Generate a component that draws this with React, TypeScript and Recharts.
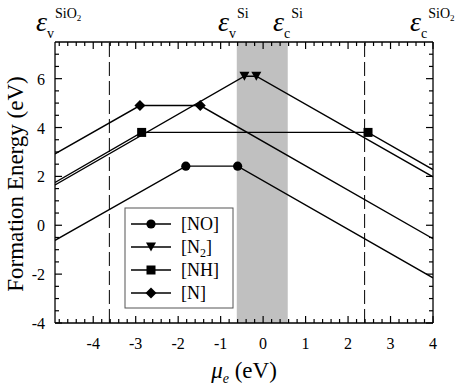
import { LineChart, Line, XAxis, YAxis, ReferenceLine, ReferenceArea } from 'recharts';

const X_MIN = -4.9;
const X_MAX = 4;
const Y_MIN = -4;
const Y_MAX = 7.5;

const xMajorTicks = [-4, -3, -2, -1, 0, 1, 2, 3, 4];
const yMajorTicks = [-4, -2, 0, 2, 4, 6];
const xAllTicks = Array.from({ length: 45 }, (_, i) => +(-4.8 + i * 0.2).toFixed(1));
const yAllTicks = Array.from({ length: 23 }, (_, i) => -4 + i * 0.5);

// species: mu_e break points and formation energies (eV)
const noX = [-4.9, -1.82, -0.6, 4];
const noY = [-0.62, 2.42, 2.42, -2.15];
const n2X = [-4.9, -0.44, -0.16, 4];
const n2Y = [1.65, 6.1, 6.1, 1.98];
const nhX = [-4.9, -2.86, 2.47, 4];
const nhY = [1.75, 3.8, 3.8, 2.28];
const nX = [-4.9, -2.9, -1.48, 4];
const nY = [2.92, 4.9, 4.9, -0.55];

// band edges
const siGap = [-0.62, 0.58];
const sio2Edges = [-3.62, 2.39];

const toPts = (xs: number[], ys: number[]) => xs.map((x, i) => ({ x, y: ys[i] }));

const FONT = 'Liberation Serif, Times New Roman, serif';
const W = 463;
const H = 391;
const M = { top: 42, right: 30, bottom: 68, left: 55 };
const PLOT_H = H - M.top - M.bottom;
const PLOT_W = W - M.left - M.right;

type Shape = 'circle' | 'triangle' | 'square' | 'diamond';

const Marker = ({ cx, cy, shape }: { cx: number; cy: number; shape: Shape }) => {
  if (shape === 'circle') return <circle cx={cx} cy={cy} r={4.6} fill="#000" />;
  if (shape === 'triangle')
    return <polygon points={`${cx - 5},${cy - 4.5} ${cx + 5},${cy - 4.5} ${cx},${cy + 4.5}`} fill="#000" />;
  if (shape === 'square') return <rect x={cx - 4.5} y={cy - 4.5} width={9} height={9} fill="#000" />;
  return <polygon points={`${cx},${cy - 5.5} ${cx + 5.5},${cy} ${cx},${cy + 5.5} ${cx - 5.5},${cy}`} fill="#000" />;
};

const kinkDot = (shape: Shape, n: number) => (props: any) => {
  const { cx, cy, index } = props;
  if (index === 0 || index === n - 1) return <g key={`e${index}`} />;
  return (
    <g key={`d${index}`}>
      <Marker cx={cx} cy={cy} shape={shape} />
    </g>
  );
};

const SERIES: { name: string; xs: number[]; ys: number[]; shape: Shape }[] = [
  { name: 'NO', xs: noX, ys: noY, shape: 'circle' },
  { name: 'N2', xs: n2X, ys: n2Y, shape: 'triangle' },
  { name: 'NH', xs: nhX, ys: nhY, shape: 'square' },
  { name: 'N', xs: nX, ys: nY, shape: 'diamond' },
];

// bottom axis: inward ticks at bottom and mirrored at the top, labels on majors
const bottomTick = (props: any) => {
  const { x, y, payload } = props;
  const major = xMajorTicks.includes(payload.value);
  const len = major ? 7 : 4;
  const top = y - PLOT_H;
  return (
    <g>
      <line x1={x} y1={y} x2={x} y2={y - len} stroke="#000" strokeWidth={1.2} />
      <line x1={x} y1={top} x2={x} y2={top + len} stroke="#000" strokeWidth={1.2} />
      {major && (
        <text x={x} y={y + 26} textAnchor="middle" fontFamily={FONT} fontSize={16} fill="#000">
          {payload.value}
        </text>
      )}
    </g>
  );
};

// left axis: inward ticks on the left and mirrored on the right, plus the right frame edge
const leftTick = (props: any) => {
  const { x, y, payload } = props;
  const major = yMajorTicks.includes(payload.value);
  const len = major ? 7 : 4;
  const right = x + PLOT_W;
  return (
    <g>
      <line x1={x} y1={y} x2={x + len} y2={y} stroke="#000" strokeWidth={1.2} />
      <line x1={right} y1={y} x2={right - len} y2={y} stroke="#000" strokeWidth={1.2} />
      {payload.value === Y_MIN && (
        <line x1={right} y1={y} x2={right} y2={y - PLOT_H} stroke="#000" strokeWidth={1.3} />
      )}
      {major && (
        <text x={x - 10} y={y + 6} textAnchor="end" fontFamily={FONT} fontSize={16} fill="#000">
          {payload.value}
        </text>
      )}
    </g>
  );
};

const Eps = ({ x, sub, sup }: { x: number; sub: string; sup: 'Si' | 'SiO2' }) => (
  <text x={x} y={31} fontFamily={FONT} fill="#000">
    <tspan fontSize={28} fontStyle="italic">ε</tspan>
    <tspan fontSize={14} dy={7}>{sub}</tspan>
    <tspan fontSize={14} dy={-20} dx={1}>Si{sup === 'SiO2' ? 'O' : ''}</tspan>
    {sup === 'SiO2' && <tspan fontSize={9} dy={3}>2</tspan>}
  </text>
);

const legendRows: { label: string; sub?: string; shape: Shape }[] = [
  { label: 'NO', shape: 'circle' },
  { label: 'N', sub: '2', shape: 'triangle' },
  { label: 'NH', shape: 'square' },
  { label: 'N', shape: 'diamond' },
];

const frame = { stroke: '#000', strokeWidth: 1.3 };

export default function App() {
  return (
    <div style={{ position: 'relative', width: W, height: H, fontFamily: FONT, background: '#fff' }}>
      <style>{'body{margin:0}'}</style>
      <LineChart width={W} height={H} margin={M}>
        <XAxis xAxisId="x" dataKey="x" orientation="bottom" type="number" domain={[X_MIN, X_MAX]}
          allowDataOverflow ticks={xAllTicks} interval={0} tickSize={0} tickMargin={0} tickLine={false}
          axisLine={frame} height={0.01} tick={bottomTick} />
        <XAxis xAxisId="xt" orientation="top" type="number" domain={[X_MIN, X_MAX]}
          allowDataOverflow ticks={xMajorTicks} interval={0} tickSize={0} tickMargin={0} tickLine={false}
          axisLine={frame} height={0.01} tick={false} />
        <YAxis yAxisId="y" orientation="left" type="number" domain={[Y_MIN, Y_MAX]}
          allowDataOverflow ticks={yAllTicks} interval={0} tickSize={0} tickMargin={0} tickLine={false}
          axisLine={frame} width={0.01} tick={leftTick} />

        <ReferenceArea xAxisId="x" yAxisId="y" x1={siGap[0]} x2={siGap[1]} y1={Y_MIN} y2={Y_MAX}
          fill="#c0c0c0" fillOpacity={1} stroke="none" />
        {sio2Edges.map((v) => (
          <ReferenceLine key={v} xAxisId="x" yAxisId="y" x={v} stroke="#000" strokeWidth={1}
            strokeDasharray="14 5" />
        ))}

        {SERIES.map((s) => (
          <Line key={s.name} xAxisId="x" yAxisId="y" data={toPts(s.xs, s.ys)} dataKey="y" type="linear"
            stroke="#000" strokeWidth={1.4} dot={kinkDot(s.shape, s.xs.length)} activeDot={false}
            isAnimationActive={false} />
        ))}
      </LineChart>

      <svg width={W} height={H} style={{ position: 'absolute', left: 0, top: 0, pointerEvents: 'none' }}>
        <Eps x={36} sub="v" sup="SiO2" />
        <Eps x={218} sub="v" sup="Si" />
        <Eps x={273} sub="c" sup="Si" />
        <Eps x={410} sub="c" sup="SiO2" />

        <text x={244} y={378} textAnchor="middle" fontFamily={FONT} fontSize={23} fill="#000">
          <tspan fontStyle="italic">μ</tspan>
          <tspan fontStyle="italic" fontSize={14} dy={5}>e</tspan>
          <tspan dy={-5}> (eV)</tspan>
        </text>
        <text x={23} y={184} transform="rotate(-90 23 184)" textAnchor="middle" fontFamily={FONT}
          fontSize={23} fill="#000">
          Formation Energy (eV)
        </text>

        <g>
          <rect x={125} y={208} width={108} height={100} fill="#fff" stroke="#555" strokeWidth={1} />
          {legendRows.map((r, i) => {
            const cy = 224 + i * 23;
            return (
              <g key={i}>
                <line x1={131} x2={171} y1={cy} y2={cy} stroke="#000" strokeWidth={1.4} />
                <Marker cx={151} cy={cy} shape={r.shape} />
                <text x={181} y={cy + 6} fontFamily={FONT} fontSize={18} fill="#000">
                  [{r.label}
                  {r.sub && <tspan fontSize={12} dy={4}>{r.sub}</tspan>}
                  {r.sub ? <tspan dy={-4}>]</tspan> : ']'}
                </text>
              </g>
            );
          })}
        </g>
      </svg>
    </div>
  );
}
